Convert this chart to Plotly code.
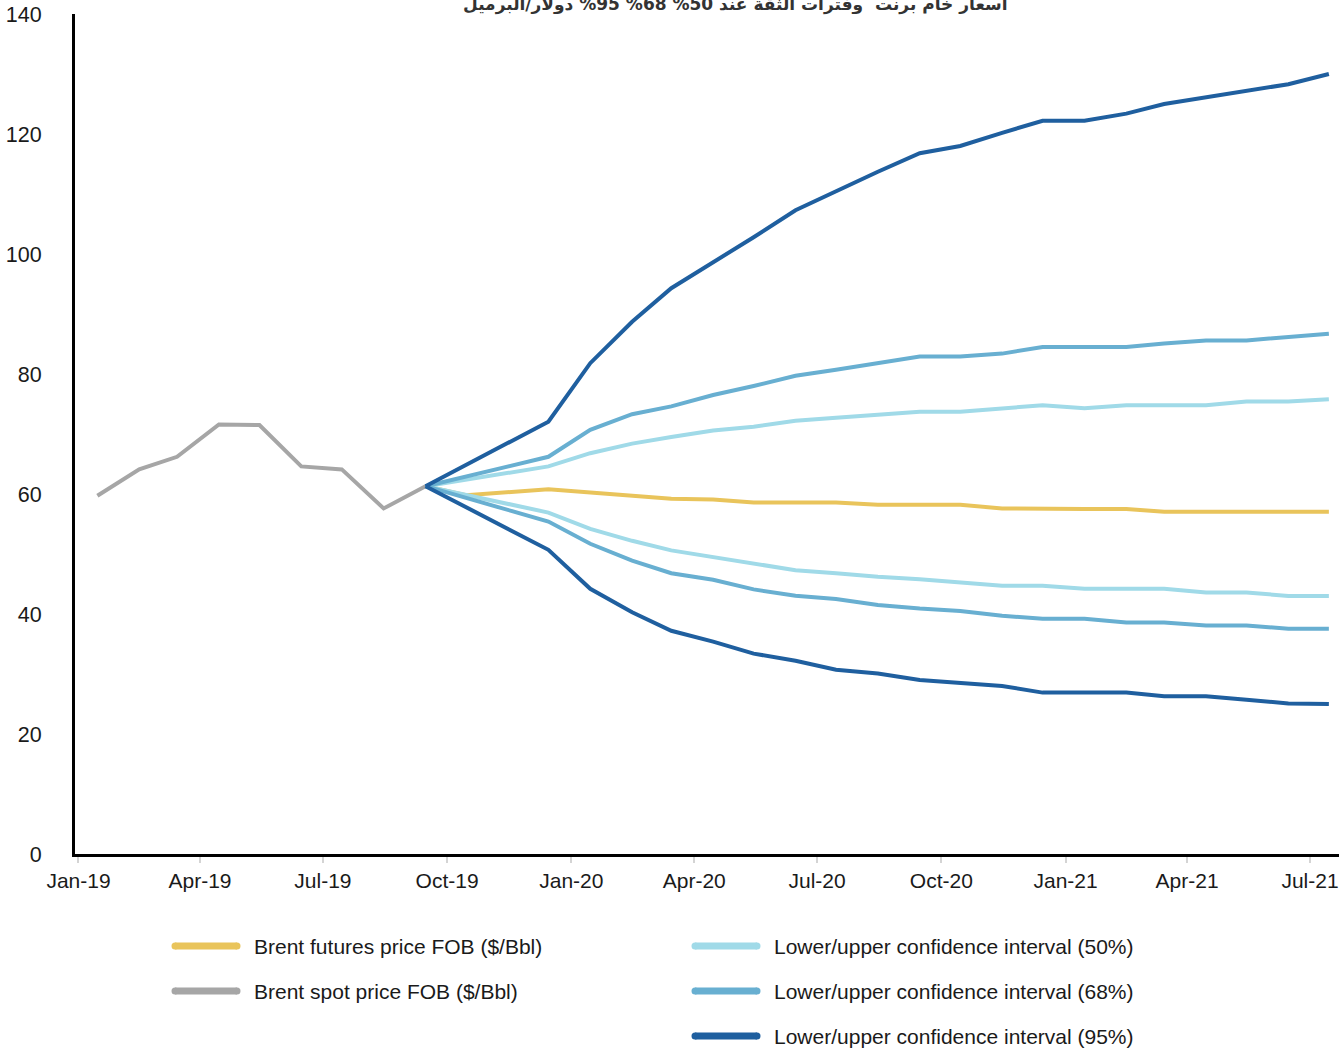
import pandas as pd
import plotly.graph_objects as go

# ---- data -------------------------------------------------------------
spot_months = pd.date_range("2019-01-01", "2019-09-01", freq="MS") + pd.Timedelta(days=14)
spot_price = [59.7, 64.1, 66.2, 71.6, 71.5, 64.6, 64.1, 57.6, 61.3]

fc_months = pd.date_range("2019-09-01", "2021-07-01", freq="MS") + pd.Timedelta(days=14)
N = None
futures_price = [61.3, 59.8, N, 60.8, 60.3, 59.8, 59.2, 59.1, 58.6, 58.6, 58.6, 58.2,
                 58.2, 58.2, 57.6, 57.5, 57.5, 57.5, 57.05, 57.05, 57.05, 57.05, 57.05]
ci50_upper = [61.3, N, N, 64.6, 66.8, 68.4, 69.5, 70.6, 71.2, 72.2, 72.7, 73.2,
              73.7, 73.7, 74.3, 74.8, 74.3, 74.8, 74.8, 74.8, 75.4, 75.4, 75.8]
ci50_lower = [61.3, N, N, 56.9, 54.2, 52.2, 50.6, 49.5, 48.4, 47.3, 46.8, 46.2,
              45.8, 45.3, 44.7, 44.7, 44.2, 44.2, 44.2, 43.6, 43.6, 43.0, 43.0]
ci68_upper = [61.3, N, N, 66.2, 70.7, 73.3, 74.6, 76.5, 78.0, 79.7, 80.7, 81.8,
              82.9, 82.9, 83.4, 84.5, 84.5, 84.5, 85.1, 85.6, 85.6, 86.1, 86.7]
ci68_lower = [61.3, N, N, 55.4, 51.7, 48.9, 46.8, 45.7, 44.1, 43.05, 42.5, 41.5,
              40.9, 40.5, 39.7, 39.2, 39.2, 38.6, 38.6, 38.1, 38.1, 37.55, 37.55]
ci95_upper = [61.3, N, N, 72.05, 81.8, 88.7, 94.3, 98.6, 102.8, 107.3, 110.5, 113.7,
              116.8, 118.0, 120.2, 122.2, 122.2, 123.4, 125.0, 126.1, 127.2, 128.3, 130.0]
ci95_lower = [61.3, N, N, 50.7, 44.2, 40.3, 37.2, 35.4, 33.4, 32.2, 30.7, 30.1,
              29.0, 28.55, 28.0, 26.9, 26.9, 26.9, 26.3, 26.3, 25.7, 25.1, 25.0]

y_ticks = [0, 20, 40, 60, 80, 100, 120, 140]

title_text = "اسعار خام برنت  وفترات الثقة عند 50% 68% 95% دولار/البرميل"
legend_items = [
    ("Brent futures price FOB ($/Bbl)", "#E9C45B"),
    ("Brent spot price FOB ($/Bbl)", "#A6A6A6"),
    ("Lower/upper confidence interval (50%)", "#A0DAE8"),
    ("Lower/upper confidence interval (68%)", "#68AFD1"),
    ("Lower/upper confidence interval (95%)", "#1F5F9F"),
]

# ---- styling ----------------------------------------------------------
C_FUT, C_SPOT, C_50, C_68, C_95 = [c for _, c in legend_items]
W, H = 1339, 1048
ML, MR, MT, MB = 75, 0, 14, 194
PW, PH = W - ML - MR, H - MT - MB
FONT = "Liberation Sans, Arial, Helvetica, sans-serif"
LW = 4


def px_x(px):
    return (px - ML) / PW


def px_y(py):
    return (H - MB - py) / PH


fig = go.Figure()


def add_line(x, y, color, name):
    fig.add_trace(go.Scatter(
        x=x, y=y, mode="lines", name=name, connectgaps=True,
        line=dict(color=color, width=LW), showlegend=False,
        hoverinfo="x+y",
    ))


add_line(spot_months, spot_price, C_SPOT, "Brent spot price FOB ($/Bbl)")
add_line(fc_months, futures_price, C_FUT, "Brent futures price FOB ($/Bbl)")
add_line(fc_months, ci50_upper, C_50, "Upper confidence interval (50%)")
add_line(fc_months, ci50_lower, C_50, "Lower confidence interval (50%)")
add_line(fc_months, ci68_upper, C_68, "Upper confidence interval (68%)")
add_line(fc_months, ci68_lower, C_68, "Lower confidence interval (68%)")
add_line(fc_months, ci95_upper, C_95, "Upper confidence interval (95%)")
add_line(fc_months, ci95_lower, C_95, "Lower confidence interval (95%)")

# ---- legend drawn as two columns below the plot -----------------------
legend_pos = [(172, 946), (172, 991), (692, 946), (692, 991), (692, 1036)]
shapes = []
annotations = []
for (label, color), (lx, ly) in zip(legend_items, legend_pos):
    x0, x1 = lx + 3, lx + 65
    shapes.append(dict(type="line", xref="paper", yref="paper",
                       x0=px_x(x0), x1=px_x(x1), y0=px_y(ly), y1=px_y(ly),
                       line=dict(color=color, width=7)))
    for cx in (x0, x1):
        shapes.append(dict(type="circle", xref="paper", yref="paper",
                           x0=px_x(cx - 3.5), x1=px_x(cx + 3.5),
                           y0=px_y(ly + 3.5), y1=px_y(ly - 3.5),
                           fillcolor=color, line=dict(width=0)))
    annotations.append(dict(xref="paper", yref="paper", x=px_x(lx + 80), y=px_y(ly),
                            xanchor="left", yanchor="middle", showarrow=False,
                            text=label, font=dict(family=FONT, size=21, color="#1a1a1a")))

annotations.append(dict(xref="paper", yref="paper", x=px_x(735), y=px_y(4),
                        xanchor="center", yanchor="middle", showarrow=False,
                        text="<b>" + title_text + "</b>",
                        font=dict(family="DejaVu Sans, sans-serif", size=17, color="#333333")))

fig.update_layout(
    width=W, height=H,
    margin=dict(l=ML, r=MR, t=MT, b=MB, pad=0),
    paper_bgcolor="white", plot_bgcolor="white",
    font=dict(family=FONT, size=21, color="#1a1a1a"),
    showlegend=False,
    shapes=shapes,
    annotations=annotations,
)

fig.update_xaxes(
    type="date",
    range=["2018-12-29 10:00", "2021-07-22 12:00"],
    tick0="2019-01-01", dtick="M3", tickformat="%b-%y",
    ticks="outside", ticklen=6, tickwidth=2, tickcolor="#d4d4d4",
    ticklabelstandoff=0,
    showline=True, linecolor="black", linewidth=3,
    showgrid=False, zeroline=False,
    tickfont=dict(family=FONT, size=21, color="#1a1a1a"),
)
fig.update_yaxes(
    range=[0, 140], tickvals=y_ticks,
    ticks="", ticklabelstandoff=26,
    showline=True, linecolor="black", linewidth=3,
    showgrid=False, zeroline=False,
    tickfont=dict(family=FONT, size=21.5, color="#1a1a1a"),
)

fig.write_html("out.html")
